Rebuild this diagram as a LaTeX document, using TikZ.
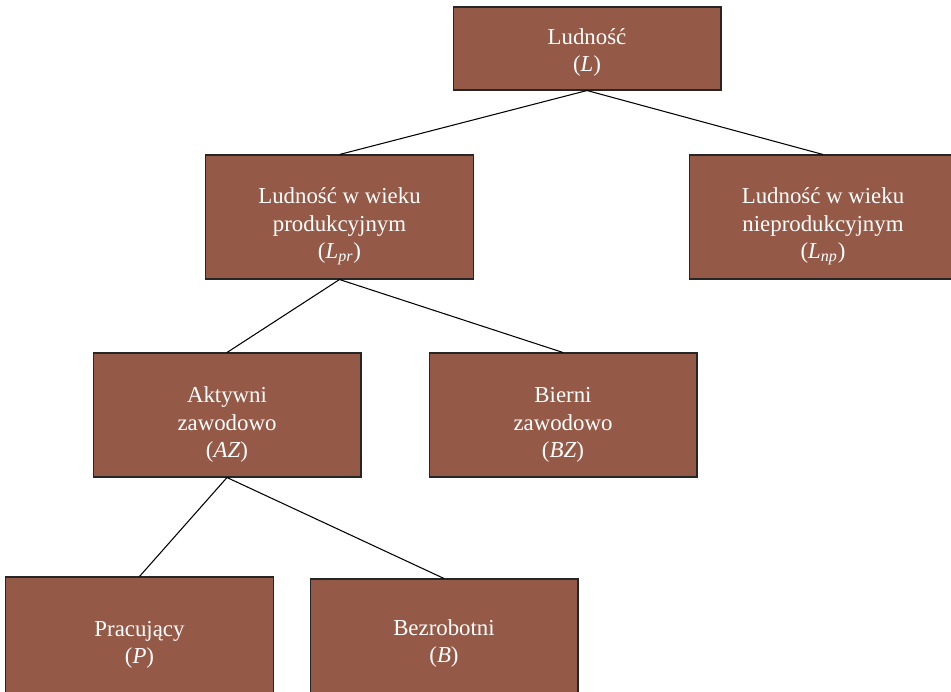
\documentclass[tikz,border=0pt]{standalone}
\usepackage{fontspec}
\setmainfont{Liberation Serif}
\usepackage{xcolor}
\usetikzlibrary{positioning}
\definecolor{boxbrown}{RGB}{149,90,71}
\newcommand{\lift}[1][20pt]{\rule{0pt}{#1}}

\begin{document}
\begin{tikzpicture}[x=0.02cm,y=-0.02cm,
    box/.style={draw=black!85,line width=0.6pt,fill=boxbrown,text=white,align=center,
        minimum width=5.36cm,minimum height=2.48cm,inner sep=0pt,
        font=\fontsize{13}{15.6}\selectfont},
    link/.style={draw=black,line width=0.6pt}]
    \useasboundingbox (0,0) rectangle (951,691);
    \clip (0,0) rectangle (951,691);

    \node[box,minimum height=1.66cm] (L) at (587,48.5) {\lift[13.5pt]Ludność\\(\textit{L})};
    \node[box] (Lpr) at (339.5,217) {\lift Ludność w wieku\\produkcyjnym\\(\textit{L}\textsubscript{\textit{pr}})};
    \node[box] (Lnp) at (823,217) {\lift Ludność w wieku\\nieprodukcyjnym\\(\textit{L}\textsubscript{\textit{np}})};
    \node[box] (AZ) at (227,415) {\lift Aktywni\\zawodowo\\(\textit{AZ})};
    \node[box] (BZ) at (563,415) {\lift Bierni\\zawodowo\\(\textit{BZ})};
    \node[box] (P) at (139.5,639) {\lift[15.5pt]Pracujący\\(\textit{P})};
    \node[box] (B) at (444,641) {\lift[12pt]Bezrobotni\\(\textit{B})};

    % connectors
    \draw[link] (L.south) -- (Lpr.north);
    \draw[link] (L.south) -- (Lnp.north);
    \draw[link] (Lpr.south) -- (AZ.north);
    \draw[link] (Lpr.south) -- (BZ.north);
    \draw[link] (AZ.south) -- (P.north);
    \draw[link] (AZ.south) -- (B.north);
\end{tikzpicture}
\end{document}
